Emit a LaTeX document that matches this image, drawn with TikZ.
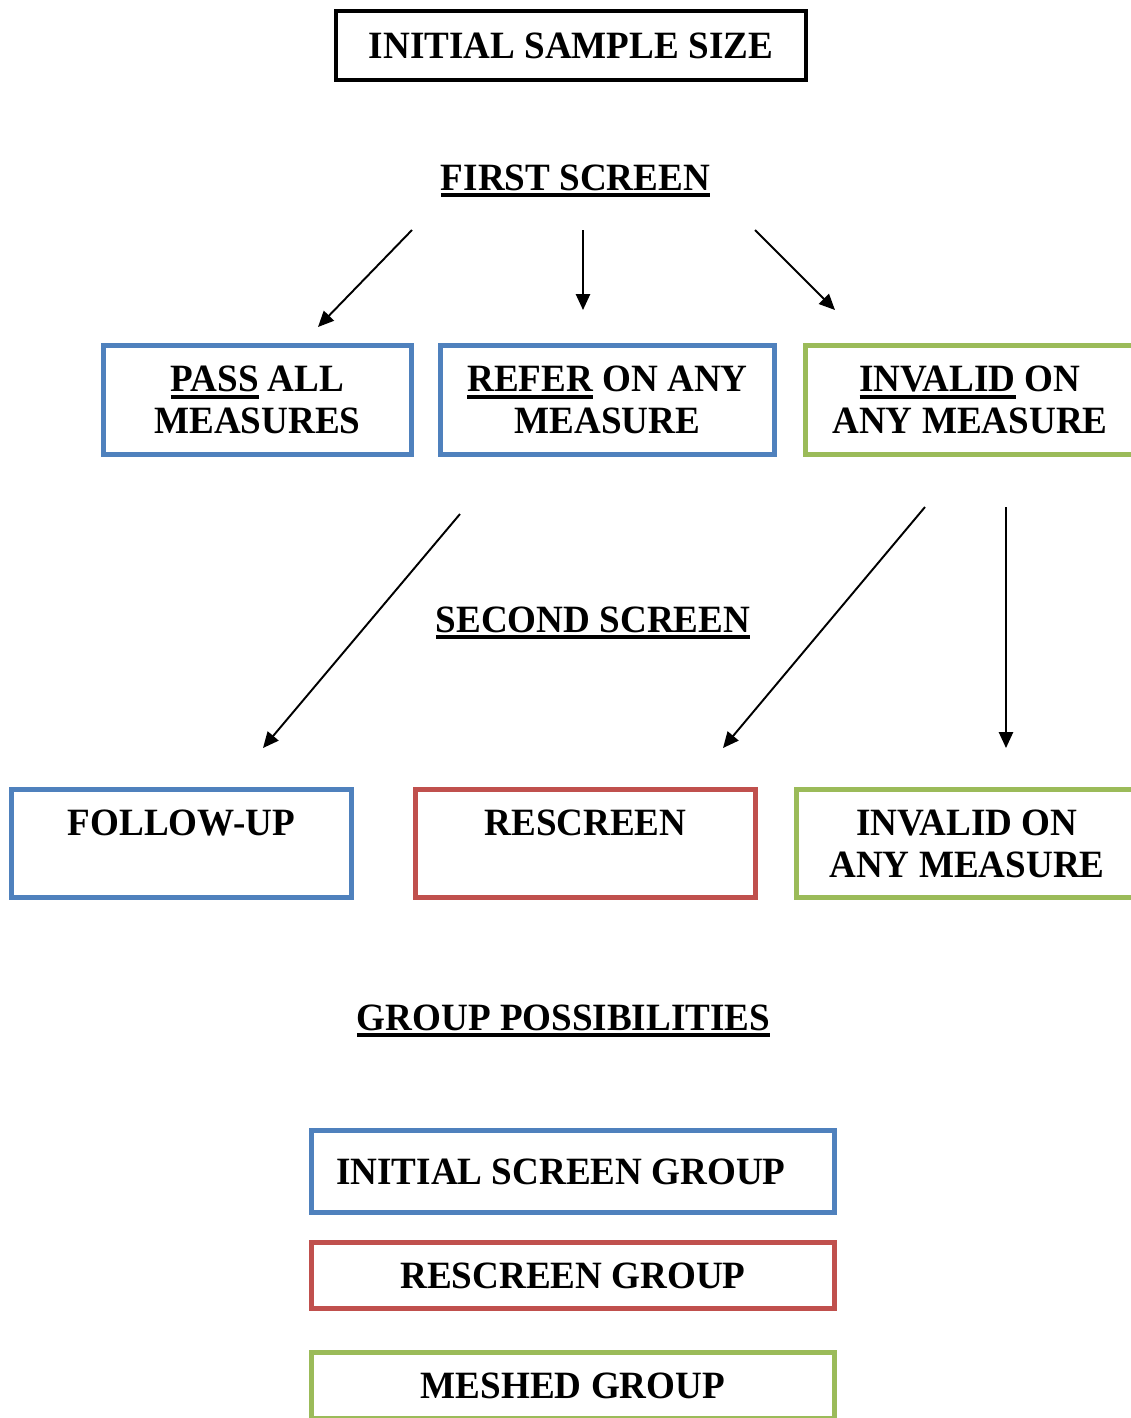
\documentclass[tikz,border=0pt]{standalone}
\usepackage{fontspec}
\setmainfont{Liberation Serif}[FakeStretch=0.96]
\usetikzlibrary{arrows.meta,positioning}
\definecolor{boxblue}{HTML}{4F81BD}
\definecolor{boxred}{HTML}{C0504D}
\definecolor{boxgreen}{HTML}{9BBB59}
\newsavebox{\ulbox}
\newcommand{\ulword}[1]{\sbox{\ulbox}{#1}\rlap{\rule[-4pt]{\wd\ulbox}{2.3pt}}\usebox{\ulbox}}

\begin{document}
\begin{tikzpicture}[x=0.02cm,y=-0.02cm,>={Triangle[length=9pt,width=8pt]},
    font=\bfseries\fontsize{22}{24}\selectfont,
    outbox/.style={draw,line width=2.8pt,align=center,inner sep=0pt},
    initbox/.style={outbox,draw=black,line width=2.3pt},
    bluebox/.style={outbox,draw=boxblue},
    redbox/.style={outbox,draw=boxred},
    greenbox/.style={outbox,draw=boxgreen},
    conn/.style={->,line width=1.1pt}]
  \useasboundingbox (0,0) rectangle (1131,1418);
  \node[initbox,minimum width=9.4cm,minimum height=1.38cm] (init) at (571,45.5) {INITIAL SAMPLE SIZE};
  \node[anchor=base] (first) at (575.5,190) {\ulword{FIRST SCREEN}};
  \node[bluebox,minimum width=6.16cm,minimum height=2.18cm] (pass) at (257.5,400) {\ulword{PASS} ALL\\MEASURES};
  \node[bluebox,minimum width=6.68cm,minimum height=2.18cm] (refer) at (607.5,400) {\ulword{REFER} ON ANY\\MEASURE};
  \node[greenbox,minimum width=6.58cm,minimum height=2.18cm] (invalid) at (970,400) {\ulword{INVALID} ON\\ANY MEASURE};
  \node[anchor=base] (second) at (593,632) {\ulword{SECOND SCREEN}};
  \node[bluebox,minimum width=6.8cm,minimum height=2.16cm] (follow) at (181.5,843.5) {FOLLOW-UP\\\mbox{}};
  \node[redbox,minimum width=6.8cm,minimum height=2.16cm] (rescreen) at (585.5,843.5) {RESCREEN\\\mbox{}};
  \node[greenbox,minimum width=6.82cm,minimum height=2.16cm] (invalidb) at (967,843.5) {INVALID ON\\ANY MEASURE};
  \node[anchor=base] (groups) at (563.5,1030) {\ulword{GROUP POSSIBILITIES}};
  \node[bluebox,minimum width=10.46cm,minimum height=1.64cm] (isg) at (573,1171.5) {INITIAL SCREEN GROUP\hspace{0.48cm}};
  \node[redbox,minimum width=10.46cm,minimum height=1.32cm] (rsg) at (573,1275.5) {RESCREEN GROUP};
  \node[greenbox,minimum width=10.46cm,minimum height=1.32cm] (msg) at (573,1385.5) {MESHED GROUP};

  \coordinate (f1) at (412,230);  \coordinate (t1) at (318,327);
  \coordinate (f2) at (583,230);  \coordinate (t2) at (583,310);
  \coordinate (f3) at (755,230);  \coordinate (t3) at (835,310);
  \coordinate (s1) at (460,514);  \coordinate (e1) at (263,748);
  \coordinate (s2) at (925,507);  \coordinate (e2) at (723,748);
  \coordinate (s3) at (1006,507); \coordinate (e3) at (1006,748);
  \foreach \a/\b in {f1/t1,f2/t2,f3/t3,s1/e1,s2/e2,s3/e3} \draw[conn] (\a) -- (\b);
\end{tikzpicture}
\end{document}
